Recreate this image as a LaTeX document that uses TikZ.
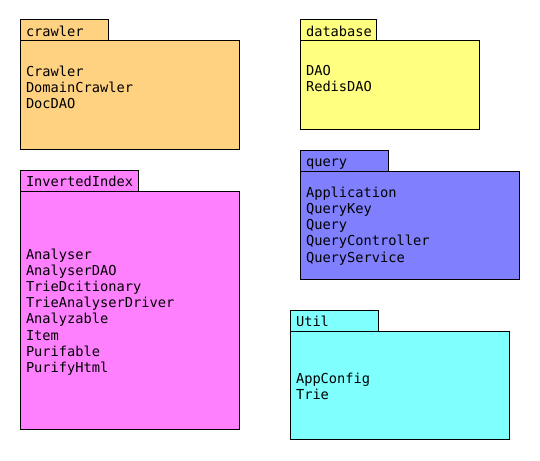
\documentclass[tikz,border=0pt]{standalone}
\usepackage{fontspec}
\setmonofont{DejaVu Sans Mono}
\definecolor{crawlerfill}{HTML}{FFD282}
\definecolor{dbfill}{HTML}{FFFF80}
\definecolor{invfill}{HTML}{FF80FF}
\definecolor{queryfill}{HTML}{8080FF}
\definecolor{utilfill}{HTML}{80FFFF}
\newcommand\pkgfont{\fontsize{13.7}{16.2}\selectfont\ttfamily}
\newcommand\pkglines[1]{\vtop{\pkgfont #1}}
\tikzset{
  pkgbox/.style={draw=black, line width=1pt, inner sep=0pt, outer sep=0pt, anchor=north west},
  pkgtext/.style={inner sep=0pt, outer sep=0pt, anchor=base west, font=\pkgfont},
}
\begin{document}
\begin{tikzpicture}[x=1pt,y=-1pt]
\useasboundingbox (0,0) rectangle (540,460);
% crawler
\node[pkgbox, fill=crawlerfill, minimum width=88pt, minimum height=21pt] (crawlertab) at (20,20) {};
\node[pkgbox, fill=crawlerfill, minimum width=219pt, minimum height=108pt] (crawlerbody) at (20,41) {};
\node[pkgtext] (crawlername) at (26,36.5) {crawler};
\node[pkgtext] (crawlertext) at (26,76) {\pkglines{\hbox{Crawler}\hbox{DomainCrawler}\hbox{DocDAO}}};
% database
\node[pkgbox, fill=dbfill, minimum width=76pt, minimum height=21pt] (dbtab) at (300,20) {};
\node[pkgbox, fill=dbfill, minimum width=179pt, minimum height=88pt] (dbbody) at (300,41) {};
\node[pkgtext] (dbname) at (306,36.5) {database};
\node[pkgtext] (dbtext) at (306,75.5) {\pkglines{\hbox{DAO}\hbox{RedisDAO}}};
% InvertedIndex
\node[pkgbox, fill=invfill, minimum width=118pt, minimum height=21pt] (invtab) at (20,170) {};
\node[pkgbox, fill=invfill, minimum width=219pt, minimum height=238pt] (invbody) at (20,191) {};
\node[pkgtext] (invname) at (26,186.5) {InvertedIndex};
\node[pkgtext] (invtext) at (26,259) {\pkglines{\hbox{Analyser}\hbox{AnalyserDAO}\hbox{TrieDcitionary}\hbox{TrieAnalyserDriver}\hbox{Analyzable}\hbox{Item}\hbox{Purifable}\hbox{PurifyHtml}}};
% query
\node[pkgbox, fill=queryfill, minimum width=88pt, minimum height=21pt] (querytab) at (300,150) {};
\node[pkgbox, fill=queryfill, minimum width=219pt, minimum height=108pt] (querybody) at (300,171) {};
\node[pkgtext] (queryname) at (306,166.5) {query};
\node[pkgtext] (querytext) at (306,197.3) {\pkglines{\hbox{Application}\hbox{QueryKey}\hbox{Query}\hbox{QueryController}\hbox{QueryService}}};
% Util
\node[pkgbox, fill=utilfill, minimum width=88pt, minimum height=21pt] (utiltab) at (290,310) {};
\node[pkgbox, fill=utilfill, minimum width=219pt, minimum height=108pt] (utilbody) at (290,331) {};
\node[pkgtext] (utilname) at (296,326.5) {Util};
\node[pkgtext] (utiltext) at (296,383.5) {\pkglines{\hbox{AppConfig}\hbox{Trie}}};
\end{tikzpicture}
\end{document}
